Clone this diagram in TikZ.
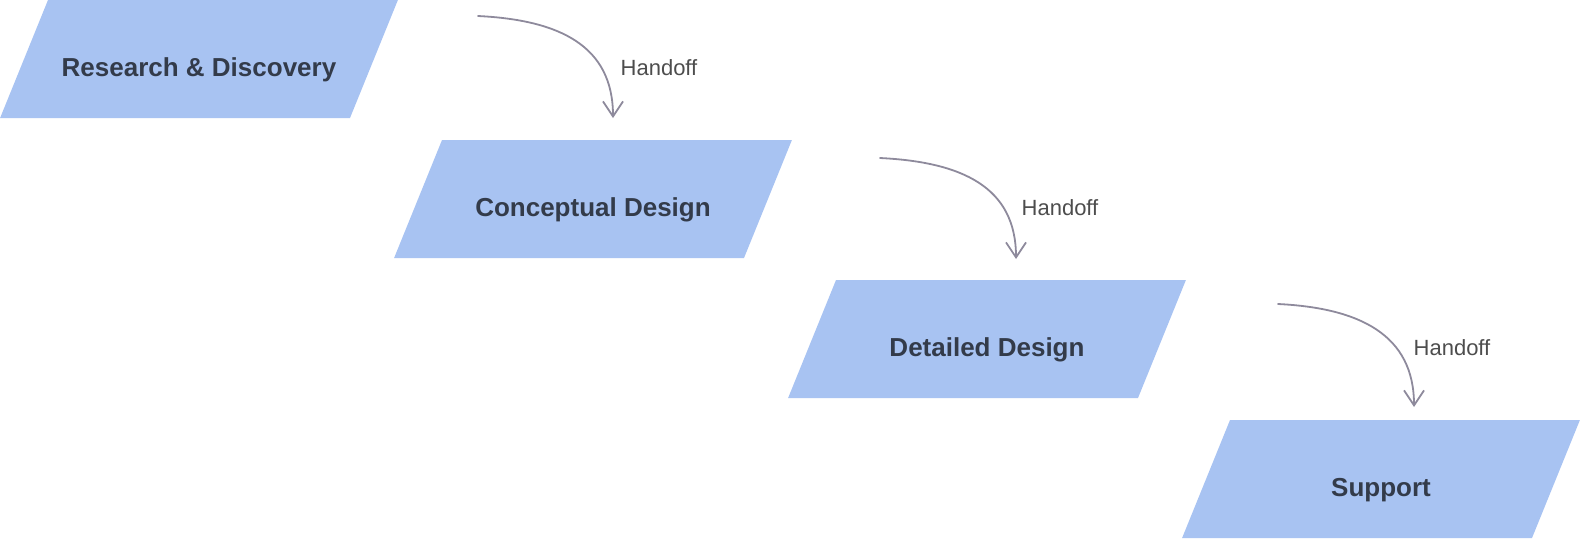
\documentclass[tikz,border=0pt]{standalone}
\usepackage{fontspec}
\setmainfont{Liberation Sans}
\usetikzlibrary{shapes.geometric,arrows.meta}
\definecolor{stagefill}{HTML}{A8C3F2}
\definecolor{stagetext}{HTML}{333B4A}
\definecolor{handoffline}{HTML}{8E8A9C}
\definecolor{handofftext}{HTML}{4D4D4D}
\begin{document}
\begin{tikzpicture}[x=0.5pt, y=-0.5pt, line join=round, line cap=round,
	stage/.style={trapezium, trapezium left angle=67.9, trapezium right angle=112.1,
		inner xsep=75.5pt, inner ysep=29.5pt, outer sep=0pt, fill=stagefill},
	stagelabel/.style={font=\fontsize{13}{15}\selectfont\bfseries, text=stagetext},
	handoff/.style={draw=handoffline, line width=0.9pt, -{Straight Barb[length=7.5pt,width=10pt]}},
	handofflabel/.style={font=\fontsize{11}{13}\selectfont, text=handofftext}]
	\useasboundingbox (0,0) rectangle (1580,538);
	
	% 1. Stages (parallelograms), stepping down to the right
	\node[stage] (research) at (199,59) {};
	\node[stage] (concept) at (593,199) {};
	\node[stage] (detail) at (987,339) {};
	\node[stage] (support) at (1381,479) {};
	
	% 2. Stage titles, a bit below the middle
	\node[stagelabel] (researchtxt) at ([yshift=-5.5pt]research.center) {Research \& Discovery};
	\node[stagelabel] (concepttxt) at ([yshift=-5.5pt]concept.center) {Conceptual Design};
	\node[stagelabel] (detailtxt) at ([yshift=-5.5pt]detail.center) {Detailed Design};
	\node[stagelabel] (supporttxt) at ([yshift=-5.5pt]support.center) {Support};
	
	% 3. Handoff arrows
	\coordinate (hand1s) at (478,16);
	\coordinate (hand1e) at (613,118);
	\coordinate (hand2s) at (880,158);
	\coordinate (hand2e) at (1016,259);
	\coordinate (hand3s) at (1278,304);
	\coordinate (hand3e) at (1414,407);
	\draw[handoff] (hand1s) .. controls +(82,4) and +(0,-72) .. (hand1e);
	\draw[handoff] (hand2s) .. controls +(82,4) and +(0,-72) .. (hand2e);
	\draw[handoff] (hand3s) .. controls +(82,4) and +(0,-72) .. (hand3e);
	
	% 4. Labels
	\node[handofflabel] (hand1txt) at (659,68) {Handoff};
	\node[handofflabel] (hand2txt) at (1060,208) {Handoff};
	\node[handofflabel] (hand3txt) at (1452,348) {Handoff};
\end{tikzpicture}
\end{document}
